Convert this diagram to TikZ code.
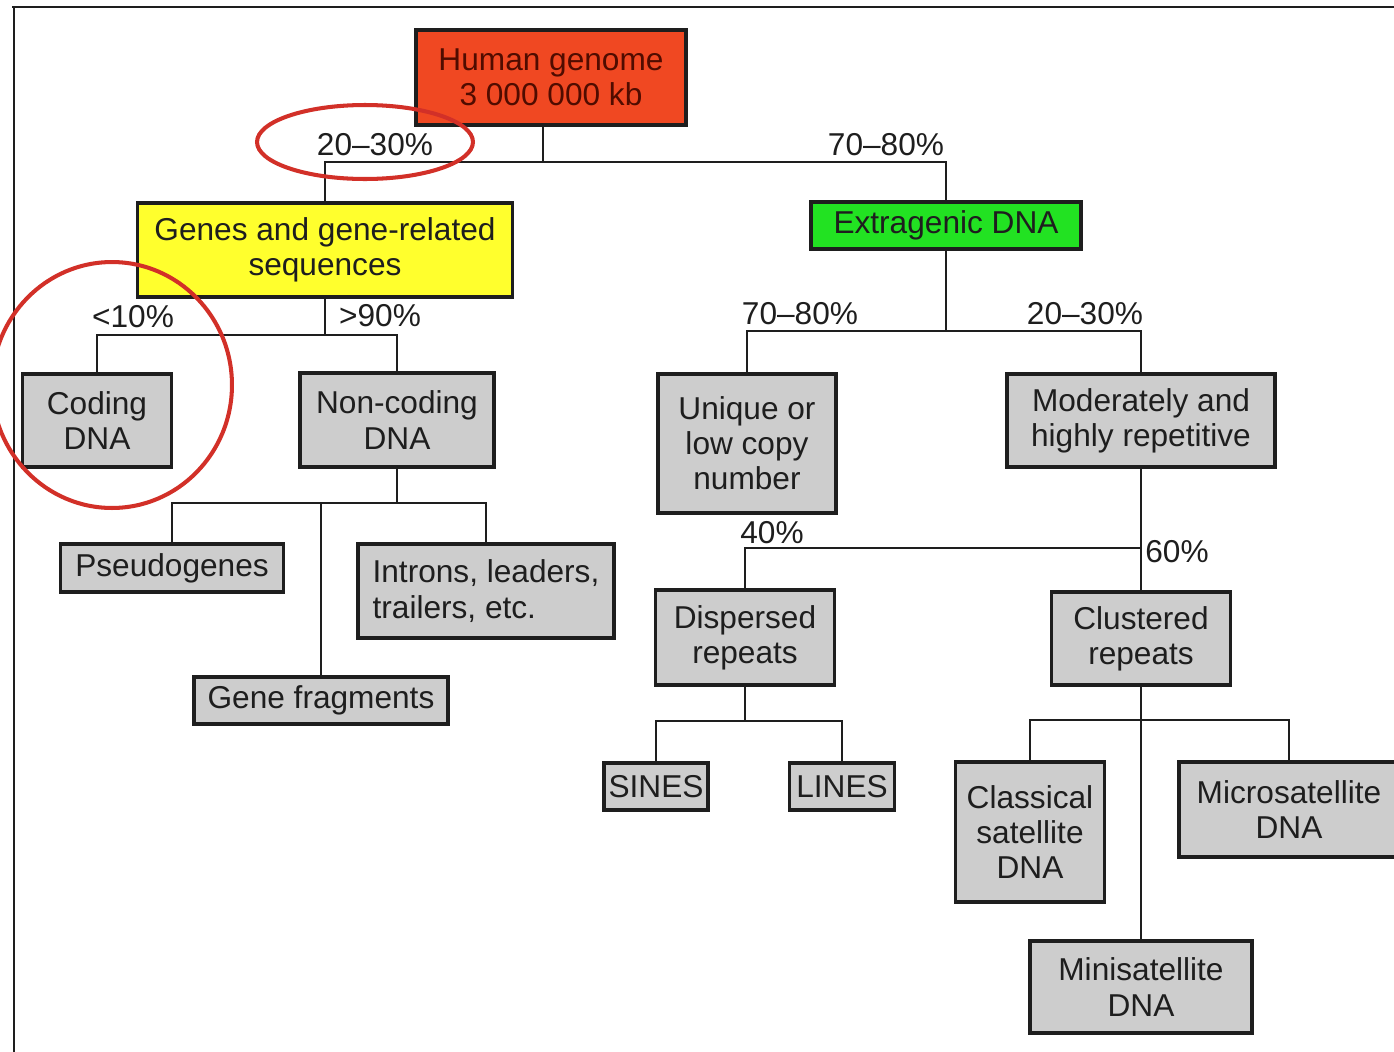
\documentclass[tikz,border=0pt]{standalone}
\usepackage{fontspec}
\setmainfont{Liberation Sans}
\usetikzlibrary{calc}

\definecolor{genomered}{RGB}{240,72,34}
\definecolor{genomeink}{RGB}{80,12,0}
\definecolor{geneyellow}{RGB}{255,255,45}
\definecolor{extragreen}{RGB}{34,226,34}
\definecolor{boxgray}{RGB}{205,205,205}
\definecolor{ink}{RGB}{30,30,30}
\definecolor{ringred}{RGB}{210,48,40}

\tikzset{
  box/.style={draw=ink, line width=1.9pt, fill=boxgray, align=center,
    inner sep=0pt, text=ink, font=\fontsize{18}{20}\selectfont},
  pct/.style={inner sep=0pt, text=ink, font=\fontsize{18}{20}\selectfont},
  link/.style={draw=ink, line width=1.1pt},
  frameline/.style={draw=ink, line width=1.7pt},
  ring/.style={draw=ringred, line width=2.3pt}
}

\begin{document}
\begin{tikzpicture}[x=0.02cm, y=-0.02cm]
  \useasboundingbox (0,0) rectangle (1394,1052);
  \fill[white] (0,0) rectangle (1394,1052);

  % page frame (top and left rules)
  \draw[frameline] (12,7) -- (1400,7);
  \draw[frameline] (14,7) -- (14,1060);

  % top level
  \node[box, fill=genomered, text=genomeink, minimum width=5.4cm, minimum height=1.9cm]
    (hg) at (551,77.5) {Human genome\\3 000 000 kb};
  \node[box, fill=geneyellow, minimum width=7.5cm, minimum height=1.88cm]
    (genes) at (325,250) {Genes and gene-related\\sequences};
  \node[box, fill=extragreen, minimum width=5.4cm, minimum height=0.94cm]
    (extra) at (946,225.5) {Extragenic DNA};

  % gene branch
  \node[box, minimum width=2.98cm, minimum height=1.86cm]
    (coding) at (97,420.5) {Coding\\DNA};
  \node[box, minimum width=3.88cm, minimum height=1.88cm]
    (noncoding) at (397,420) {Non-coding\\DNA};
  \node[box, minimum width=4.46cm, minimum height=0.96cm]
    (pseudo) at (172,568) {Pseudogenes};
  \node[box, minimum width=5.12cm, minimum height=1.88cm, align=left]
    (introns) at (486,591) {Introns, leaders,\\trailers, etc.};
  \node[box, minimum width=5.08cm, minimum height=0.94cm]
    (genefrag) at (321,700.5) {Gene fragments};

  % extragenic branch
  \node[box, minimum width=3.56cm, minimum height=2.78cm]
    (unique) at (747,443.5) {Unique or\\low copy\\number};
  \node[box, minimum width=5.36cm, minimum height=1.86cm]
    (moder) at (1141,420.5) {Moderately and\\highly repetitive};
  \node[box, minimum width=3.58cm, minimum height=1.9cm]
    (dispersed) at (745,637.5) {Dispersed\\repeats};
  \node[box, minimum width=3.58cm, minimum height=1.86cm]
    (clustered) at (1141,638.5) {Clustered\\repeats};
  \node[box, minimum width=2.08cm, minimum height=0.94cm]
    (sines) at (656,786.5) {SINES};
  \node[box, minimum width=2.1cm, minimum height=0.94cm]
    (lines) at (842,786.5) {LINES};
  \node[box, minimum width=2.98cm, minimum height=2.8cm]
    (classical) at (1030,832) {Classical\\satellite\\DNA};
  \node[box, minimum width=4.4cm, minimum height=1.9cm]
    (micro) at (1289,809.5) {Microsatellite\\DNA};
  \node[box, minimum width=4.44cm, minimum height=1.84cm]
    (mini) at (1141,987) {Minisatellite\\DNA};

  % junction levels
  \coordinate (j0) at (543,162);
  \coordinate (j1) at (0,335);
  \coordinate (j2) at (0,503);
  \coordinate (j3) at (0,331);
  \coordinate (j4) at (0,548);
  \coordinate (j5) at (0,721);
  \coordinate (j6) at (0,720);

  % connectors
  \draw[link] (hg.south -| j0) -- (j0);
  \draw[link] (genes.north) |- (j0) -| (extra.north);

  \draw[link] (genes.south) -- (genes.south |- j1);
  \draw[link] (coding.north) |- (noncoding.north |- j1) -- (noncoding.north);

  \draw[link] (noncoding.south) -- (noncoding.south |- j2);
  \draw[link] (pseudo.north) |- (introns.north |- j2) -- (introns.north);
  \draw[link] (genefrag.north) -- (genefrag.north |- j2);

  \draw[link] (extra.south) -- (extra.south |- j3);
  \draw[link] (unique.north) |- (moder.north |- j3) -- (moder.north);

  \draw[link] (moder.south) -- (clustered.north);
  \draw[link] (dispersed.north) |- (clustered.north |- j4);

  \draw[link] (dispersed.south) -- (dispersed.south |- j5);
  \draw[link] (sines.north) |- (lines.north |- j5) -- (lines.north);

  \draw[link] (clustered.south) -- (mini.north);
  \draw[link] (classical.north) |- (micro.north |- j6) -- (micro.north);

  % percentages
  \node[pct] (p1) at (375,145) {20--30\%};
  \node[pct] (p2) at (886,145) {70--80\%};
  \node[pct] (p3) at (133,317) {<10\%};
  \node[pct] (p4) at (380,316) {>90\%};
  \node[pct] (p5) at (800,314) {70--80\%};
  \node[pct] (p6) at (1085,314) {20--30\%};
  \node[pct] (p7) at (772,533) {40\%};
  \node[pct] (p8) at (1177,552) {60\%};

  % red highlight rings
  \draw[ring] (365,142) ellipse [x radius=2.16cm, y radius=0.74cm];
  \draw[ring] (112,385) ellipse [x radius=2.4cm, y radius=2.46cm];
\end{tikzpicture}
\end{document}
